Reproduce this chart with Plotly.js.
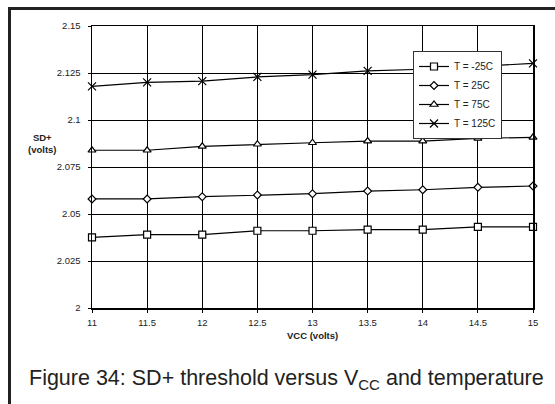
<!DOCTYPE html>
<html>
<head>
<meta charset="utf-8">
<script src="https://cdn.plot.ly/plotly-3.0.1.min.js"></script>
<style>html,body{margin:0;padding:0;background:#fff;}#chart{width:555px;height:404px;}</style>
</head>
<body>
<div id="chart"></div>
<script>
const vcc = [11, 11.5, 12, 12.5, 13, 13.5, 14, 14.5, 15];
const tMinus25 = [2.0376, 2.0390, 2.0390, 2.0411, 2.0411, 2.0417, 2.0417, 2.0431, 2.0431];
const t25 = [2.0580, 2.0580, 2.0592, 2.0601, 2.0608, 2.0622, 2.0629, 2.0642, 2.0649];
const t75 = [2.0839, 2.0839, 2.0860, 2.0871, 2.0879, 2.0888, 2.0888, 2.0902, 2.0908];
const t125 = [2.1179, 2.1200, 2.1207, 2.1229, 2.1241, 2.1261, 2.1270, 2.1285, 2.1301];
const seriesNames = ['T = -25C', 'T = 25C', 'T = 75C', 'T = 125C'];
const yTicks = [2, 2.025, 2.05, 2.075, 2.1, 2.125, 2.15];
const yTickText = ['2', '2.025', '2.05', '2.075', '2.1', '2.125', '2.15'];
const xTicks = [11, 11.5, 12, 12.5, 13, 13.5, 14, 14.5, 15];

const symbols = ['square', 'diamond', 'triangle-up', 'x-thin-open'];
const sizes = [7, 6, 7, 8];
const fills = ['#fff', '#fff', '#fff', '#000'];
const data = [tMinus25, t25, t75, t125].map((ys, i) => ({
  x: vcc, y: ys, name: seriesNames[i], type: 'scatter', mode: 'lines+markers',
  line: {color: '#000', width: 1.2},
  marker: {symbol: symbols[i], size: sizes[i], color: fills[i], line: {color: '#000', width: 1.2}},
  cliponaxis: false
}));

const L = 92, R = 22, T = 26, B = 96;
const W = 555 - L - R, H = 404 - T - B;
const px = v => (v - L) / W;
const py = v => (404 - B - v) / H;

const layout = {
  width: 555, height: 404,
  margin: {l: L, r: R, t: T, b: B, pad: 0},
  paper_bgcolor: '#fff', plot_bgcolor: '#fff',
  font: {family: 'Liberation Sans, Arial, sans-serif', color: '#222', size: 9},
  showlegend: true,
  legend: {
    x: px(413), y: py(51), xanchor: 'left', yanchor: 'top',
    bgcolor: '#fff', bordercolor: '#333', borderwidth: 1,
    font: {size: 10, color: '#222'}, tracegroupgap: 0, itemwidth: 30
  },
  xaxis: {
    range: [11, 15], tickvals: xTicks, ticktext: xTicks.map(String),
    showgrid: true, gridcolor: '#000', gridwidth: 1,
    showline: true, linecolor: '#000', linewidth: 1.5, mirror: true,
    ticks: 'outside', ticklen: 3, tickcolor: '#000', zeroline: false,
    ticklabelstandoff: 2,
    tickfont: {size: 9.5, color: '#222'}
  },
  yaxis: {
    range: [2, 2.15], tickvals: yTicks, ticktext: yTickText,
    showgrid: true, gridcolor: '#000', gridwidth: 1,
    showline: true, linecolor: '#000', linewidth: 1.5, mirror: true,
    ticks: 'outside', ticklen: 3, tickcolor: '#000', zeroline: false,
    ticklabelstandoff: 5,
    tickfont: {size: 9.5, color: '#222'}
  },
  annotations: [
    {xref: 'paper', yref: 'paper', x: px(42), y: py(143.5), text: '<b>SD+</b><br><b>(volts)</b>',
     showarrow: false, xanchor: 'center', yanchor: 'middle', font: {size: 9.5, color: '#222'}},
    {xref: 'paper', yref: 'paper', x: 0.5, y: py(335), text: '<b>VCC (volts)</b>',
     showarrow: false, xanchor: 'center', yanchor: 'middle', font: {size: 9.5, color: '#222'}},
    {xref: 'paper', yref: 'paper', x: px(286), y: py(379), text: 'Figure 34: SD+ threshold versus V<sub>CC</sub> and temperature',
     showarrow: false, xanchor: 'center', yanchor: 'middle', font: {size: 21.5, color: '#222'}}
  ],
  shapes: [
    {type: 'line', xref: 'paper', yref: 'paper', x0: px(9.5), x1: px(9.5), y0: py(7), y1: py(405), line: {color: '#222', width: 3}},
    {type: 'line', xref: 'paper', yref: 'paper', x0: px(8), x1: px(556), y0: py(8.5), y1: py(8.5), line: {color: '#222', width: 3}}
  ]
};

Plotly.newPlot('chart', data, layout, {displayModeBar: false, staticPlot: true});
</script>
</body>
</html>
